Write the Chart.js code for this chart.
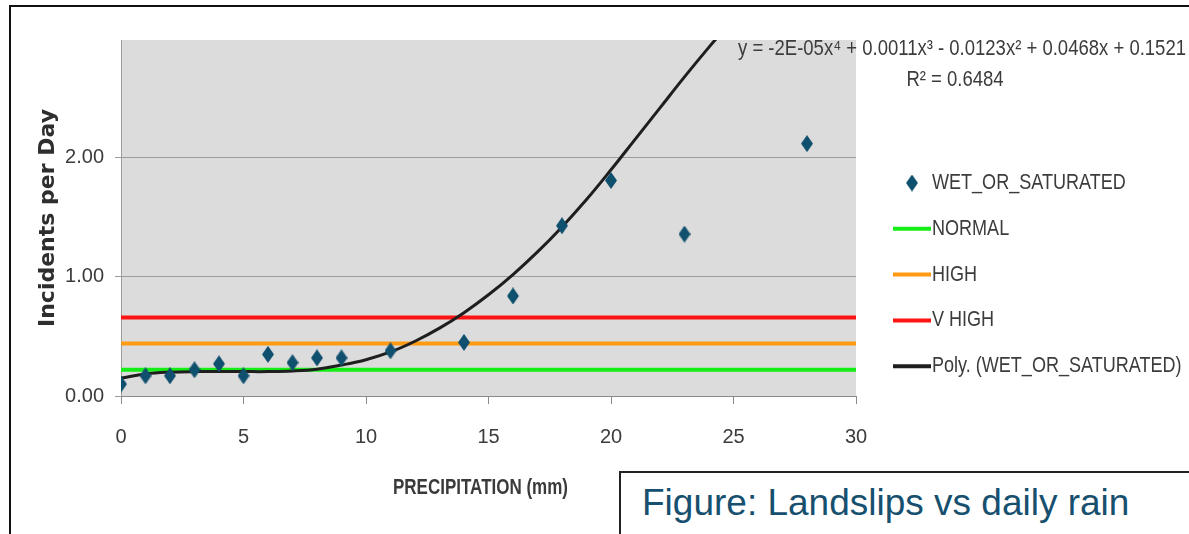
<!DOCTYPE html>
<html>
<head>
<meta charset="utf-8">
<title>Landslips vs daily rain</title>
<script src="https://cdn.jsdelivr.net/npm/chart.js@4/dist/chart.umd.min.js"></script>
<style>
  html, body { margin: 0; padding: 0; background: #fff; overflow: hidden; }
  #wrap { position: relative; width: 1189px; height: 534px; }
  #frame {
    position: absolute; left: 9px; top: 5px; width: 1300px; height: 600px;
    border-left: 2px solid #111; border-top: 2px solid #111;
  }
  #chart { position: absolute; left: 0; top: 0; }
  #caption {
    position: absolute; left: 619px; top: 471px; width: 700px; height: 100px;
    border: 2px solid #222; background: #fff;
    font-family: 'Liberation Sans', Arial, sans-serif; font-size: 37px;
    color: #17506f; padding: 10px 0 0 21px; box-sizing: border-box; line-height: 40px;
  }
</style>
</head>
<body>
<div id="wrap">
  <div id="frame"></div>
  <canvas id="chart" width="1189" height="534"></canvas>
  <div id="caption">Figure: Landslips vs daily rain</div>
</div>
<script>
(function () {
  'use strict';

  // точки наблюдений (мм осадков -> инциденты в день)
  var rainMm = [0, 1, 2, 3, 4, 5, 6, 7, 8, 9, 11, 14, 16, 18, 20, 23, 28];
  var incidents = [0.10, 0.17, 0.17, 0.22, 0.27, 0.17, 0.35, 0.28, 0.32, 0.32, 0.38, 0.45, 0.84, 1.43, 1.81, 1.36, 2.12];

  // уровни порогов
  var normalLevel = 0.22;
  var highLevel = 0.44;
  var vHighLevel = 0.66;

  // линия тренда
  var trendX = [0, 1, 2, 3, 4, 5, 6, 7, 8, 9, 10, 11, 12, 13, 14, 15, 16, 17, 18, 19, 20, 21, 22, 23, 24, 25];
  var trendY = [0.15, 0.185, 0.20, 0.205, 0.205, 0.205, 0.205, 0.21, 0.225, 0.26, 0.305, 0.37, 0.46, 0.57, 0.70, 0.85, 1.02, 1.21, 1.42, 1.65, 1.90, 2.16, 2.42, 2.68, 2.93, 3.17];

  var xTicks = [0, 5, 10, 15, 20, 25, 30];
  var yTicks = [0, 1, 2];
  var yTickLabels = ['0.00', '1.00', '2.00'];

  var xTitle = 'PRECIPITATION (mm)';
  var equationText = 'y = -2E-05x\u2074 + 0.0011x\u00b3 - 0.0123x\u00b2 + 0.0468x + 0.1521';
  var r2Text = 'R\u00b2 = 0.6484';

  var SANS = "'Liberation Sans', Arial, sans-serif";
  var TEXT = '#3c3c3c';

  // ромбик как в Excel
  function makeDiamond(w, h, color) {
    var c = document.createElement('canvas');
    c.width = w;
    c.height = h;
    var g = c.getContext('2d');
    g.fillStyle = color;
    g.beginPath();
    g.moveTo(w / 2, 0);
    g.lineTo(w, h / 2);
    g.lineTo(w / 2, h);
    g.lineTo(0, h / 2);
    g.closePath();
    g.fill();
    return c;
  }
  var diamond = makeDiamond(12, 17, '#10506f');

  function pts(xs, ys) {
    return xs.map(function (x, i) { return { x: x, y: ys[i] }; });
  }
  function level(v) {
    return [{ x: 0, y: v }, { x: 30, y: v }];
  }

  // узкий текст (Arial Narrow нет — сжимаем по горизонтали)
  function narrowText(ctx, text, x, y, align, sx) {
    ctx.save();
    ctx.textAlign = align;
    ctx.translate(x, y);
    ctx.scale(sx, 1);
    ctx.fillText(text, 0, 0);
    ctx.restore();
  }

  var plotBg = {
    id: 'plotBg',
    beforeDraw: function (chart) {
      var a = chart.chartArea, ctx = chart.ctx;
      ctx.save();
      ctx.fillStyle = '#dcdcdc';
      ctx.fillRect(a.left, a.top, a.right - a.left, a.bottom - a.top);
      ctx.restore();
    }
  };

  // легенда, уравнение и подпись оси X
  var sideText = {
    id: 'sideText',
    afterDraw: function (chart) {
      var ctx = chart.ctx;
      var a = chart.chartArea;
      ctx.save();
      ctx.textBaseline = 'middle';

      ctx.font = 'bold 22px ' + SANS;
      ctx.fillStyle = '#3a3a3a';
      narrowText(ctx, xTitle, (a.left + a.right) / 2 - 8, 488, 'center', 175 / ctx.measureText(xTitle).width);

      ctx.font = '22px ' + SANS;
      ctx.fillStyle = TEXT;
      var sx = 448 / ctx.measureText(equationText).width;
      narrowText(ctx, equationText, 1186, 49, 'right', sx);
      narrowText(ctx, r2Text, 955, 80, 'center', sx);

      var y = 183;
      chart.data.datasets.forEach(function (ds) {
        if (ds.showLine === false) {
          ctx.drawImage(diamond, 912 - 6, y - 8.5);
        } else {
          ctx.strokeStyle = ds.borderColor;
          ctx.lineWidth = 4;
          ctx.beginPath();
          ctx.moveTo(893, y);
          ctx.lineTo(931, y);
          ctx.stroke();
        }
        narrowText(ctx, ds.label, 932, y, 'left', 0.82);
        y += 45.8;
      });
      ctx.restore();
    }
  };

  new Chart(document.getElementById('chart'), {
    type: 'scatter',
    data: {
      datasets: [
        {
          label: 'WET_OR_SATURATED',
          data: pts(rainMm, incidents),
          showLine: false,
          pointStyle: diamond,
          order: 0,
        },
        {
          label: 'NORMAL',
          data: level(normalLevel),
          showLine: true,
          borderColor: '#14ee14',
          borderWidth: 4,
          pointRadius: 0,
          order: 4,
        },
        {
          label: 'HIGH',
          data: level(highLevel),
          showLine: true,
          borderColor: '#ff9a12',
          borderWidth: 4,
          pointRadius: 0,
          order: 3,
        },
        {
          label: 'V HIGH',
          data: level(vHighLevel),
          showLine: true,
          borderColor: '#ff1414',
          borderWidth: 4,
          pointRadius: 0,
          order: 2,
        },
        {
          label: 'Poly. (WET_OR_SATURATED)',
          data: pts(trendX, trendY),
          showLine: true,
          borderColor: '#1e1e1e',
          borderWidth: 3,
          pointRadius: 0,
          tension: 0.4,
          order: 1,
        },
      ],
    },
    options: {
      responsive: false,
      animation: false,
      layout: { padding: { left: 0, right: 333, top: 40, bottom: 0 } },
      plugins: {
        legend: { display: false },
        tooltip: { enabled: false },
      },
      scales: {
        x: {
          type: 'linear',
          min: 0,
          max: 30,
          afterBuildTicks: function (s) {
            s.ticks = xTicks.map(function (v) { return { value: v }; });
          },
          afterFit: function (s) { s.height = 138; },
          ticks: {
            color: TEXT,
            padding: 21,
            maxRotation: 0,
            font: { family: SANS, size: 20 },
          },
          grid: { drawOnChartArea: false, tickLength: 8, color: '#8a8a8a' },
          border: { color: '#8a8a8a', width: 1 },
        },
        y: {
          type: 'linear',
          min: 0,
          max: 2.99,
          afterBuildTicks: function (s) {
            s.ticks = yTicks.map(function (v) { return { value: v }; });
          },
          afterFit: function (s) { s.width = 121; },
          ticks: {
            color: TEXT,
            padding: 11,
            font: { family: SANS, size: 20 },
            callback: function (v, i) { return yTickLabels[i]; },
          },
          grid: { color: '#9c9c9c', tickLength: 6, lineWidth: 1 },
          border: { color: '#9c9c9c', width: 1 },
          title: {
            display: true,
            text: 'Incidents per Day',
            color: '#2e2e2e',
            padding: { top: 35, bottom: 0 },
            font: { family: 'DejaVu Sans', size: 22, weight: 'bold' },
          },
        },
      },
    },
    plugins: [plotBg, sideText],
  });
})();
</script>
</body>
</html>
